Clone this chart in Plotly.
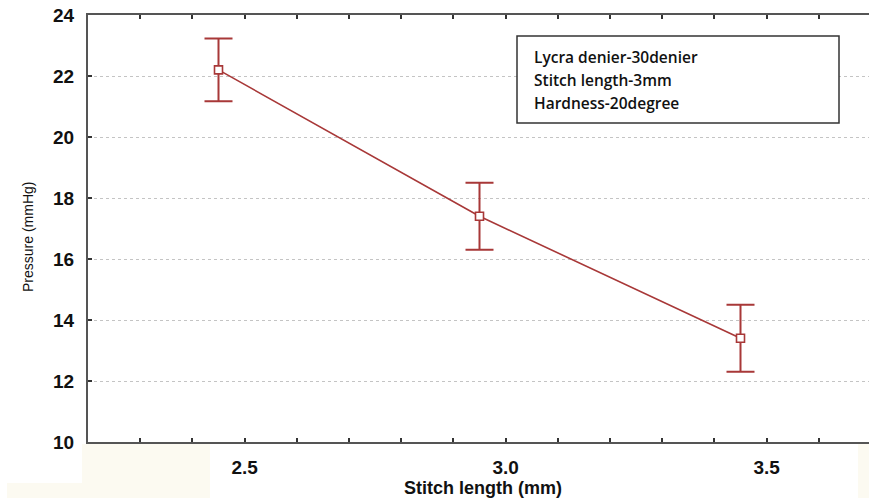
import plotly.graph_objects as go

# Data
stitch_length = [2.45, 2.95, 3.45]
pressure = [22.2, 17.4, 13.4]
pressure_err = [1.03, 1.1, 1.1]

x_tick_vals = [2.3, 2.4, 2.5, 2.6, 2.7, 2.8, 2.9, 3.0, 3.1, 3.2, 3.3, 3.4, 3.5, 3.6, 3.7]
x_tick_text = ["", "", "2.5", "", "", "", "", "3.0", "", "", "", "", "3.5", "", ""]
y_tick_vals = [10, 12, 14, 16, 18, 20, 22, 24]

info_lines = ["Lycra denier-30denier", "Stitch length-3mm", "Hardness-20degree"]

RED = "#a83838"
AXIS = "#555555"

W, H = 869, 498
ML, MR, MT, MB = 88, 0, 15, 56
PW, PH = W - ML - MR, H - MT - MB


def px_x(px):
    return (px - ML) / PW


def px_y(py):
    return (H - MB - py) / PH


fig = go.Figure()
fig.add_trace(go.Scatter(
    x=stitch_length, y=pressure,
    mode="lines+markers",
    line=dict(color=RED, width=1.6),
    marker=dict(symbol="square", size=8, color="white",
                line=dict(color=RED, width=1.6)),
    error_y=dict(type="data", array=pressure_err, visible=True,
                 color=RED, thickness=2, width=14),
    showlegend=False,
))

shapes = [
    # faint cream background patches (scan artefacts)
    dict(type="rect", xref="paper", yref="paper", layer="below",
         x0=px_x(82), x1=px_x(210), y0=px_y(444), y1=px_y(498),
         fillcolor="#fcfaf1", line=dict(width=0)),
    dict(type="rect", xref="paper", yref="paper", layer="below",
         x0=px_x(7), x1=px_x(82), y0=px_y(483), y1=px_y(498),
         fillcolor="#fcfaf1", line=dict(width=0)),
    dict(type="rect", xref="paper", yref="paper", layer="below",
         x0=px_x(858), x1=px_x(869), y0=px_y(444), y1=px_y(498),
         fillcolor="#fcfaf1", line=dict(width=0)),
    # info box
    dict(type="rect", xref="paper", yref="paper",
         x0=px_x(517), x1=px_x(839), y0=px_y(123), y1=px_y(36),
         fillcolor="white", line=dict(color="#333333", width=1.5)),
]

annotations = []
for i, t in enumerate(info_lines):
    annotations.append(dict(
        text=t, xref="paper", yref="paper",
        x=px_x(532), y=px_y(57 + 23 * i),
        xanchor="left", yanchor="middle", showarrow=False,
        font=dict(family="Open Sans, sans-serif", size=15.5, color="#111111",
                  weight=600),
    ))

annotations.append(dict(
    text="Stitch length (mm)", xref="paper", yref="paper",
    x=px_x(483), y=px_y(488), xanchor="center", yanchor="middle",
    showarrow=False,
    font=dict(family="Liberation Sans, Arial, sans-serif", size=18,
              color="#111111", weight="bold"),
))
annotations.append(dict(
    text="Pressure (mmHg)", xref="paper", yref="paper",
    x=px_x(28), y=px_y(237), xanchor="center", yanchor="middle",
    textangle=-90, showarrow=False,
    font=dict(family="Liberation Sans, Arial, sans-serif", size=14,
              color="#111111"),
))

tick_font = dict(family="Liberation Sans, Arial, sans-serif", size=19,
                 color="#111111", weight="bold")

fig.update_layout(
    width=W, height=H,
    margin=dict(l=ML, r=MR, t=MT, b=MB),
    paper_bgcolor="white", plot_bgcolor="white",
    shapes=shapes, annotations=annotations,
    xaxis=dict(
        range=[2.2, 2.2 + PW / 522.0],
        tickvals=x_tick_vals, ticktext=x_tick_text,
        ticks="inside", ticklen=4, tickwidth=2, tickcolor="#333333",
        showline=True, linecolor=AXIS, linewidth=2, mirror="ticks",
        showgrid=False, zeroline=False,
        ticklabelstandoff=7,
        tickfont=tick_font,
    ),
    yaxis=dict(
        range=[10, 24],
        tickvals=y_tick_vals,
        ticks="inside", ticklen=4, tickwidth=2, tickcolor="#333333",
        showline=True, linecolor=AXIS, linewidth=2, mirror=False,
        showgrid=True, gridcolor="#c4c4c4", gridwidth=1, griddash="dot",
        zeroline=False,
        ticklabelstandoff=8,
        tickfont=tick_font,
    ),
)

fig.write_html("out.html")
